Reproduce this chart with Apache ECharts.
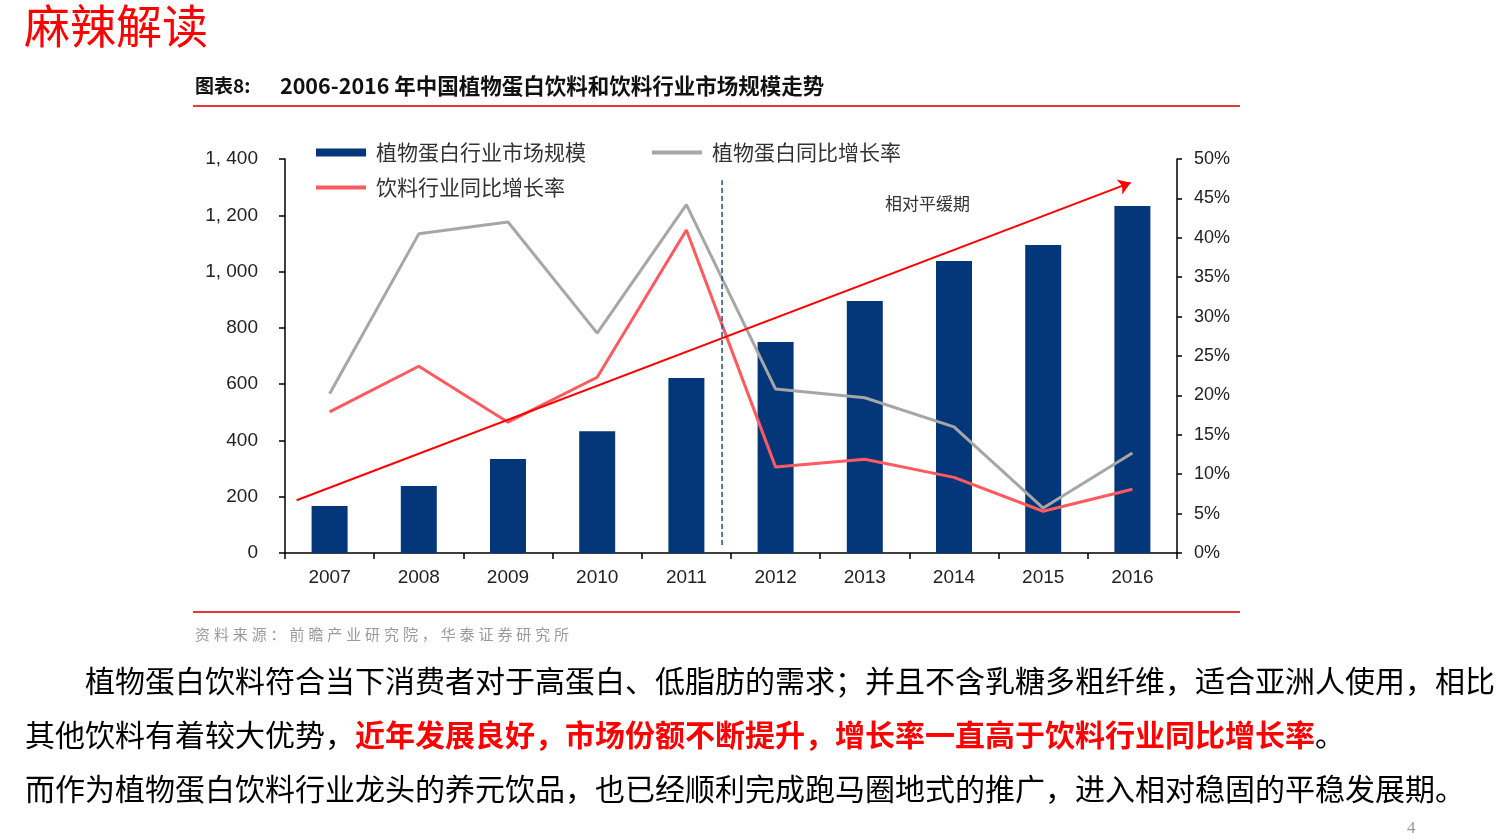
<!DOCTYPE html>
<html>
<head>
<meta charset="utf-8">
<script src="https://cdn.jsdelivr.net/npm/echarts@6/dist/echarts.min.js"></script>
<style>
html,body{margin:0;padding:0;background:#fff;}
#main{width:1512px;height:839px;}
</style>
</head>
<body>
<div id="main"></div>
<script>
// ---- data ----
const categories = ['2007','2008','2009','2010','2011','2012','2013','2014','2015','2016'];
const marketSize = [167, 238, 334, 433, 622, 750, 895, 1038, 1094, 1233];
const plantGrowth = [20.2, 40.5, 42.0, 27.9, 44.2, 20.8, 19.7, 16.0, 5.7, 12.7];
const beverageGrowth = [17.9, 23.7, 16.6, 22.3, 41.0, 10.9, 11.9, 9.6, 5.3, 8.1];
const leftTicks = {min: 0, max: 1400, interval: 200};
const rightTicks = {min: 0, max: 50, interval: 5};
// annotation anchors in axis units (hidden 0-10 category-position axis, % axis)
const trendLine = [[0.13, 6.7], [9.48, 47.0]];
const dividerLine = [[4.9, 1.0], [4.9, 47.3]];
const seriesNames = ['植物蛋白行业市场规模', '植物蛋白同比增长率', '饮料行业同比增长率'];
const sourceText = '资料来源：前瞻产业研究院，华泰证券研究所';

const chart = echarts.init(document.getElementById('main'));
const cjk = '"Noto Sans CJK SC", "Noto Sans", sans-serif';
const latin = '"Liberation Sans", Arial, sans-serif';

function leftFmt(v) {
  let s = String(v);
  if (v >= 1000) s = s.slice(0, -3) + ', ' + s.slice(-3);
  return s;
}
// spaced characters (letter-spacing emulation via rich tokens)
function spaced(str) {
  return str.split('').map(c => '{c|' + c + '}').join('');
}

const legendText = {fontFamily: cjk, fontSize: 21, color: '#333', padding: [0, 0, 0, 5]};

const option = {
  backgroundColor: '#fff',
  animation: false,
  legend: [
    {data: [{name: seriesNames[0], icon: 'rect'}], left: 311, top: 137, itemWidth: 50, itemHeight: 8, textStyle: legendText},
    {data: [{name: seriesNames[1], icon: 'rect'}], left: 647, top: 137, itemWidth: 50, itemHeight: 4, textStyle: legendText},
    {data: [{name: seriesNames[2], icon: 'rect'}], left: 311, top: 172, itemWidth: 50, itemHeight: 4, textStyle: legendText}
  ],
  grid: {left: 285, right: 335, top: 159, bottom: 286, containLabel: false},
  xAxis: [
    {
      type: 'category', data: categories,
      axisLine: {lineStyle: {color: '#000', width: 1.5}},
      axisTick: {show: true, length: 6, lineStyle: {color: '#000', width: 1.5}},
      axisLabel: {fontFamily: latin, fontSize: 19, color: '#222', margin: 15}
    },
    {type: 'value', min: 0, max: 10, show: false}
  ],
  yAxis: [
    {
      type: 'value', min: leftTicks.min, max: leftTicks.max, interval: leftTicks.interval,
      position: 'left',
      axisLine: {show: true, lineStyle: {color: '#000', width: 1.5}},
      axisTick: {show: true, length: 6, lineStyle: {color: '#000', width: 1.5}},
      splitLine: {show: false},
      axisLabel: {fontFamily: latin, fontSize: 19, color: '#222', margin: 27, formatter: leftFmt}
    },
    {
      type: 'value', min: rightTicks.min, max: rightTicks.max, interval: rightTicks.interval,
      position: 'right',
      axisLine: {show: true, lineStyle: {color: '#000', width: 1.5}},
      axisTick: {show: true, length: 5, lineStyle: {color: '#000', width: 1.5}},
      splitLine: {show: false},
      axisLabel: {fontFamily: latin, fontSize: 18, color: '#222', margin: 17, formatter: '{value}%'}
    }
  ],
  series: [
    {
      name: seriesNames[0], type: 'bar', data: marketSize,
      xAxisIndex: 0, yAxisIndex: 0, barWidth: 36,
      itemStyle: {color: '#03377A'}, z: 2
    },
    {
      name: seriesNames[1], type: 'line', data: plantGrowth,
      xAxisIndex: 0, yAxisIndex: 1, symbol: 'none',
      lineStyle: {color: '#A6A6A6', width: 3}, itemStyle: {color: '#A6A6A6'}, z: 3
    },
    {
      name: seriesNames[2], type: 'line', data: beverageGrowth,
      xAxisIndex: 0, yAxisIndex: 1, symbol: 'none',
      lineStyle: {color: '#FF5A5F', width: 3}, itemStyle: {color: '#FF5A5F'}, z: 4
    },
    {
      name: 'trend', type: 'lines', coordinateSystem: 'cartesian2d',
      xAxisIndex: 1, yAxisIndex: 1,
      symbol: ['none', 'arrow'], symbolSize: 12,
      lineStyle: {color: '#FF0000', width: 2, opacity: 1},
      data: [{coords: trendLine}], z: 5, silent: true
    },
    {
      name: 'divider', type: 'line', data: dividerLine,
      xAxisIndex: 1, yAxisIndex: 1, symbol: 'none',
      lineStyle: {color: '#1F4E8C', width: 1.5, type: [5, 3]}, z: 5, silent: true
    }
  ],
  graphic: [
    {type: 'text', left: 24, top: 3, style: {text: '麻辣解读', fontFamily: cjk, fontSize: 46, fill: '#FF0000'}},
    {type: 'text', left: 195, top: 75, style: {
      text: '{a|图表8:}{b|2006-2016 年中国植物蛋白饮料和饮料行业市场规模走势}',
      rich: {
        a: {fontFamily: cjk, fontSize: 19, fontWeight: 'bold', fill: '#111', width: 85},
        b: {fontFamily: cjk, fontSize: 21.5, fontWeight: 'bold', fill: '#111'}
      }
    }},
    {type: 'line', shape: {x1: 193, y1: 106, x2: 1240, y2: 106}, style: {stroke: '#E53935', lineWidth: 2}},
    {type: 'line', shape: {x1: 193, y1: 612, x2: 1240, y2: 612}, style: {stroke: '#E53935', lineWidth: 2}},
    {type: 'text', left: 885, top: 195, style: {text: '相对平缓期', fontFamily: cjk, fontSize: 17, fill: '#333'}},
    {type: 'text', left: 195, top: 627, style: {
      text: spaced(sourceText),
      rich: {c: {fontFamily: cjk, fontSize: 15, fill: '#9A9A9A', width: 18.9}}
    }},
    {type: 'text', left: 85, top: 666, style: {text: '植物蛋白饮料符合当下消费者对于高蛋白、低脂肪的需求；并且不含乳糖多粗纤维，适合亚洲人使用，相比', fontFamily: cjk, fontSize: 30, fill: '#000'}},
    {type: 'text', left: 25, top: 720, style: {
      text: '{k|其他饮料有着较大优势，}{r|近年发展良好，市场份额不断提升，增长率一直高于饮料行业同比增长率}{k|。}',
      rich: {
        k: {fontFamily: cjk, fontSize: 30, fill: '#000'},
        r: {fontFamily: cjk, fontSize: 30, fill: '#FF0000', fontWeight: 'bold'}
      }
    }},
    {type: 'text', left: 25, top: 774, style: {text: '而作为植物蛋白饮料行业龙头的养元饮品，也已经顺利完成跑马圈地式的推广，进入相对稳固的平稳发展期。', fontFamily: cjk, fontSize: 30, fill: '#000'}},
    {type: 'text', left: 1407, top: 820, style: {text: '4', fontFamily: '"Liberation Serif", serif', fontSize: 17, fill: '#999'}}
  ]
};
chart.setOption(option);
</script>
</body>
</html>
